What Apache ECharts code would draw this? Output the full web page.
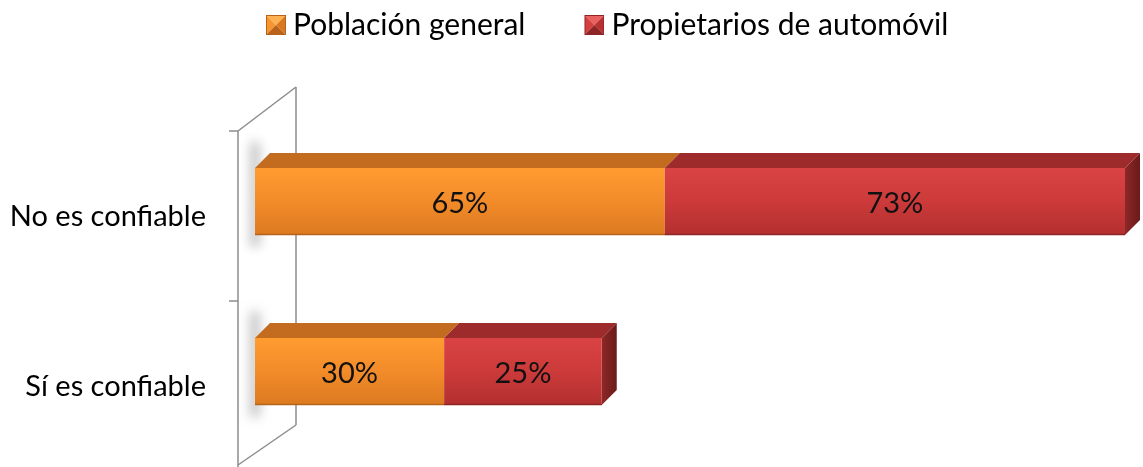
<!DOCTYPE html>
<html>
<head>
<meta charset="utf-8">
<script src="https://cdn.jsdelivr.net/npm/echarts@6/dist/echarts.min.js"></script>
<style>html,body{margin:0;padding:0;background:#fff;}#c{width:1143px;height:467px;}</style>
</head>
<body>
<div id="c"></div>
<script>
const categories = ['No es confiable', 'Sí es confiable'];
const seriesNames = ['Población general', 'Propietarios de automóvil'];
const poblacion = [65, 30];
const propietarios = [73, 25];

const FONT = 'Lato';
const DEPTH = 15;

const palettes = [
  { front: ['#FF9C30', '#F28B29', '#DC7A21'], top: '#C36C1F', edge: '#B8621A', side: ['#A85818', '#8A4510'] },
  { front: ['#DA4343', '#CC3A3A', '#B32F2F'], top: '#9E2B2B', edge: '#8E2424', side: ['#8E2828', '#6A1A1A'] }
];

function vgrad(c) {
  return new echarts.graphic.LinearGradient(0, 0, 0, 1, [
    { offset: 0, color: c[0] }, { offset: 0.5, color: c[1] }, { offset: 1, color: c[2] }
  ]);
}

const stacks = [poblacion, propietarios];

function buildData(k) {
  return categories.map(function (cat, i) {
    let start = 0;
    for (let j = 0; j < k; j++) start += stacks[j][i];
    return [i, start, start + stacks[k][i], stacks[k][i]];
  });
}

function makeRender(k) {
  const pal = palettes[k];
  const isLast = k === stacks.length - 1;
  return function (params, api) {
    const ci = api.value(0);
    const p0 = api.coord([api.value(1), ci]);
    const p1 = api.coord([api.value(2), ci]);
    const band = api.size([0, 1])[1];
    const h = band * 0.395;
    const top = p0[1] - h / 2 + 0.5;
    const bottom = top + h;
    const d = DEPTH;
    const children = [];
    if (k === 0) {
      children.push({
        type: 'rect',
        shape: { x: p0[0] - 5 + 3000, y: top - 26, width: 10, height: h + 38 },
        style: { fill: 'rgba(0,0,0,0.45)', shadowBlur: 11, shadowColor: 'rgba(0,0,0,0.5)', shadowOffsetX: -3000 },
        silent: true
      });
    }
    children.push({
      type: 'polygon',
      shape: { points: [[p0[0], top], [p0[0] + d, top - d], [p1[0] + d, top - d], [p1[0], top]] },
      style: { fill: pal.top }
    });
    if (isLast) {
      children.push({
        type: 'polygon',
        shape: { points: [[p1[0], top], [p1[0] + d, top - d], [p1[0] + d, bottom - d], [p1[0], bottom]] },
        style: { fill: new echarts.graphic.LinearGradient(0, 0, 1, 0, [
          { offset: 0, color: pal.side[0] }, { offset: 1, color: pal.side[1] }
        ]) }
      });
    }
    children.push({
      type: 'rect',
      shape: { x: p0[0], y: top, width: p1[0] - p0[0], height: h },
      style: { fill: vgrad(pal.front) }
    });
    children.push({
      type: 'line',
      shape: { x1: p0[0], y1: bottom - 0.5, x2: p1[0], y2: bottom - 0.5 },
      style: { stroke: pal.edge, lineWidth: 1.5 }
    });
    children.push({
      type: 'text',
      style: {
        text: api.value(3) + '%',
        x: (p0[0] + p1[0]) / 2,
        y: (top + bottom) / 2 + 2,
        align: 'center',
        verticalAlign: 'middle',
        font: '29px ' + FONT,
        fill: '#111'
      }
    });
    return { type: 'group', children: children };
  };
}

function renderWall(params, api) {
  const o = api.coord([0, 0]);
  const band = api.size([0, 1])[1];
  const gridTop = o[1] - band / 2;
  const n = categories.length;
  const lx = o[0] - 17;
  const rx = lx + 58;
  const y0 = gridTop + 15;
  const y1 = gridTop + n * band + 15;
  const st = { stroke: '#8C8C8C', lineWidth: 1.5 };
  const children = [
    { type: 'line', shape: { x1: lx, y1: y0, x2: lx, y2: y1 }, style: st },
    { type: 'line', shape: { x1: lx, y1: y0, x2: rx, y2: y0 - 44 }, style: st },
    { type: 'line', shape: { x1: rx, y1: y0 - 44, x2: rx, y2: y1 - 46 }, style: st },
    { type: 'line', shape: { x1: lx, y1: y1 - 6, x2: rx, y2: y1 - 46 }, style: st }
  ];
  for (let i = 0; i <= n; i++) {
    const y = y0 + i * band;
    children.push({ type: 'line', shape: { x1: lx - 9, y1: y, x2: lx, y2: y }, style: st });
  }
  return { type: 'group', children: children, silent: true };
}

function iconSvg(light, mid, dark, darker) {
  const svg = "<svg xmlns='http://www.w3.org/2000/svg' width='20' height='20'>" +
    "<polygon points='0,0 20,0 10,10' fill='" + light + "'/>" +
    "<polygon points='0,0 10,10 0,20' fill='" + mid + "'/>" +
    "<polygon points='20,0 20,20 10,10' fill='" + dark + "'/>" +
    "<polygon points='0,20 10,10 20,20' fill='" + darker + "'/>" +
    "<rect x='0.5' y='0.5' width='19' height='19' fill='none' stroke='" + darker + "'/>" +
    "</svg>";
  return 'image://data:image/svg+xml;charset=utf-8,' + encodeURIComponent(svg);
}

const chart = echarts.init(document.getElementById('c'), null, { renderer: 'canvas' });
chart.setOption({
  animation: false,
  backgroundColor: '#ffffff',
  legend: {
    left: 266,
    top: 10,
    padding: 0,
    itemWidth: 20,
    itemHeight: 20,
    itemGap: 59,
    textStyle: { fontFamily: FONT, fontSize: 30, lineHeight: 30, color: '#000', padding: [0, 0, 0, 2] },
    data: [
      { name: seriesNames[0], icon: iconSvg('#FFB152', '#F7962E', '#D9781F', '#B8621A') },
      { name: seriesNames[1], icon: iconSvg('#E86060', '#D44040', '#B83030', '#8E2424') }
    ]
  },
  grid: { left: 255, right: 18, top: 116, bottom: 11, containLabel: false },
  xAxis: { type: 'value', min: 0, max: 138, show: false },
  yAxis: {
    type: 'category',
    data: categories,
    inverse: true,
    axisLine: { show: false },
    axisTick: { show: false },
    splitLine: { show: false },
    axisLabel: {
      margin: 49,
      fontFamily: FONT,
      fontSize: 29,
      lineHeight: 32,
      verticalAlign: 'top',
      color: '#000'
    }
  },
  series: [
    { type: 'custom', name: '__wall', renderItem: renderWall, data: [[0, 0, 0]], encode: { x: 1, y: 0 }, clip: false, silent: true, z: 1 },
    { type: 'custom', name: seriesNames[0], renderItem: makeRender(0), data: buildData(0), encode: { x: [1, 2], y: 0 }, itemStyle: { color: '#F28B29' }, clip: false, z: 2 },
    { type: 'custom', name: seriesNames[1], renderItem: makeRender(1), data: buildData(1), encode: { x: [1, 2], y: 0 }, itemStyle: { color: '#CC3A3A' }, clip: false, z: 3 }
  ]
});
</script>
</body>
</html>
